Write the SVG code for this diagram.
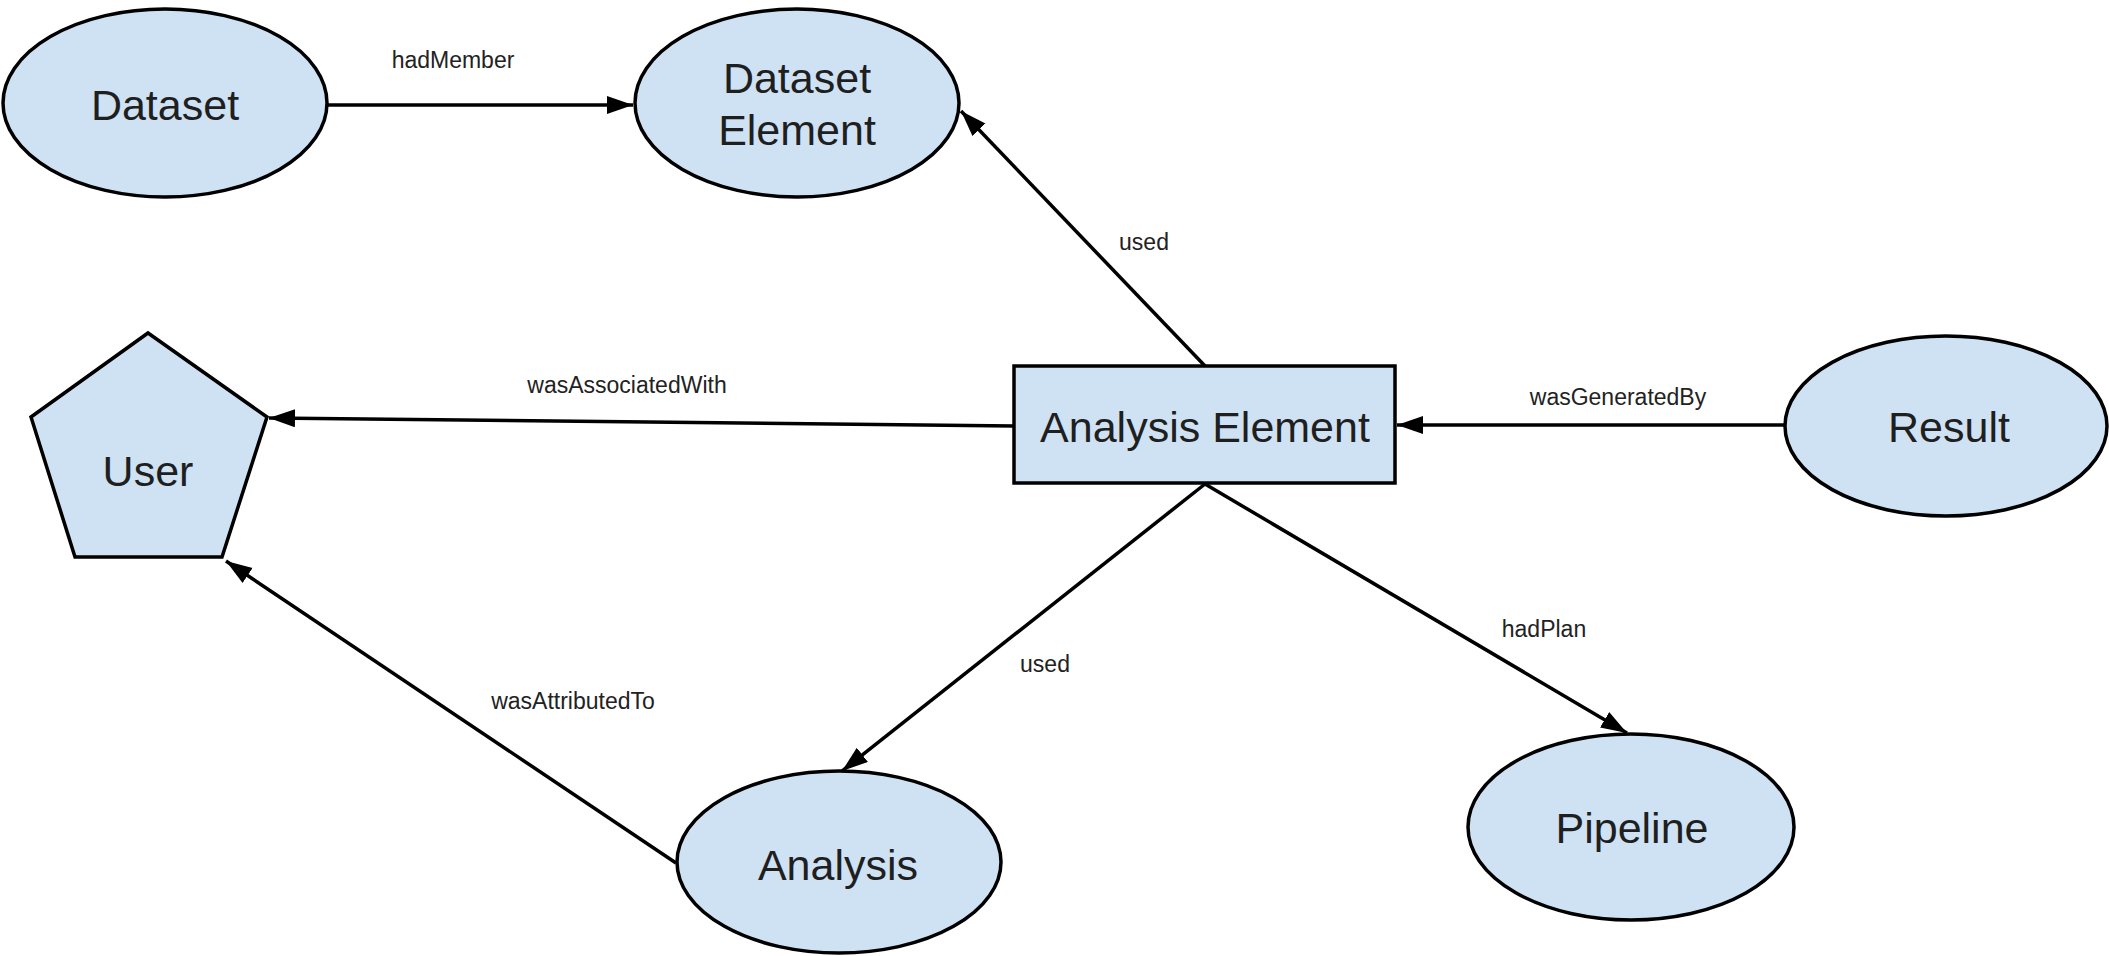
<svg xmlns="http://www.w3.org/2000/svg" width="2109" height="956" viewBox="0 0 2109 956">
  <style>
    .node { fill: #cfe2f3; stroke: #000; stroke-width: 3.5; }
    .label { font-family: "Liberation Sans", Arial, sans-serif; font-size: 43px; fill: #1f1f1f; text-anchor: middle; }
    .edge { stroke: #000; stroke-width: 3.5; fill: none; marker-end: url(#arrow); }
    .edge-label { font-family: "Liberation Sans", Arial, sans-serif; font-size: 23px; fill: #222; text-anchor: middle; }
  </style>
  <defs>
    <marker id="arrow" markerUnits="userSpaceOnUse" markerWidth="28" markerHeight="20" refX="26" refY="9" orient="auto">
      <path d="M0,0 L26,9 L0,18 z" fill="#000"/>
    </marker>
  </defs>
  <rect width="2109" height="956" fill="#fff"/>

  <g id="connectors">
    <line class="edge" x1="328" y1="105" x2="633" y2="105"/>
    <line class="edge" x1="1205" y1="366" x2="961" y2="111"/>
    <line class="edge" x1="1014" y1="426" x2="269" y2="418"/>
    <line class="edge" x1="1785" y1="425" x2="1397" y2="425"/>
    <line class="edge" x1="1205" y1="484" x2="842" y2="771"/>
    <line class="edge" x1="1205" y1="484" x2="1627" y2="733"/>
    <line class="edge" x1="676" y1="863" x2="226" y2="561"/>
    <text class="edge-label" x="453" y="68">hadMember</text>
    <text class="edge-label" x="1144" y="250">used</text>
    <text class="edge-label" x="627" y="393">wasAssociatedWith</text>
    <text class="edge-label" x="1618" y="405">wasGeneratedBy</text>
    <text class="edge-label" x="1045" y="672">used</text>
    <text class="edge-label" x="1544" y="637">hadPlan</text>
    <text class="edge-label" x="573" y="709">wasAttributedTo</text>
  </g>

  <g id="dataset">
    <ellipse class="node" cx="165" cy="103" rx="162" ry="94"/>
    <text class="label" x="165" y="120">Dataset</text>
  </g>
  <g id="dataset-element">
    <ellipse class="node" cx="797" cy="103" rx="162" ry="94"/>
    <text class="label" x="797" y="93">Dataset</text>
    <text class="label" x="797" y="145">Element</text>
  </g>
  <g id="user">
    <polygon class="node" points="148,333 267,417 222,557 75,557 31,417"/>
    <text class="label" x="148" y="486">User</text>
  </g>
  <g id="analysis-element">
    <rect class="node" x="1014" y="366" width="381" height="117"/>
    <text class="label" x="1205" y="442">Analysis Element</text>
  </g>
  <g id="result">
    <ellipse class="node" cx="1946" cy="426" rx="161" ry="90"/>
    <text class="label" x="1949" y="442">Result</text>
  </g>
  <g id="analysis">
    <ellipse class="node" cx="839" cy="862" rx="162" ry="91"/>
    <text class="label" x="838" y="880">Analysis</text>
  </g>
  <g id="pipeline">
    <ellipse class="node" cx="1631" cy="827" rx="163" ry="93"/>
    <text class="label" x="1632" y="843">Pipeline</text>
  </g>
</svg>
